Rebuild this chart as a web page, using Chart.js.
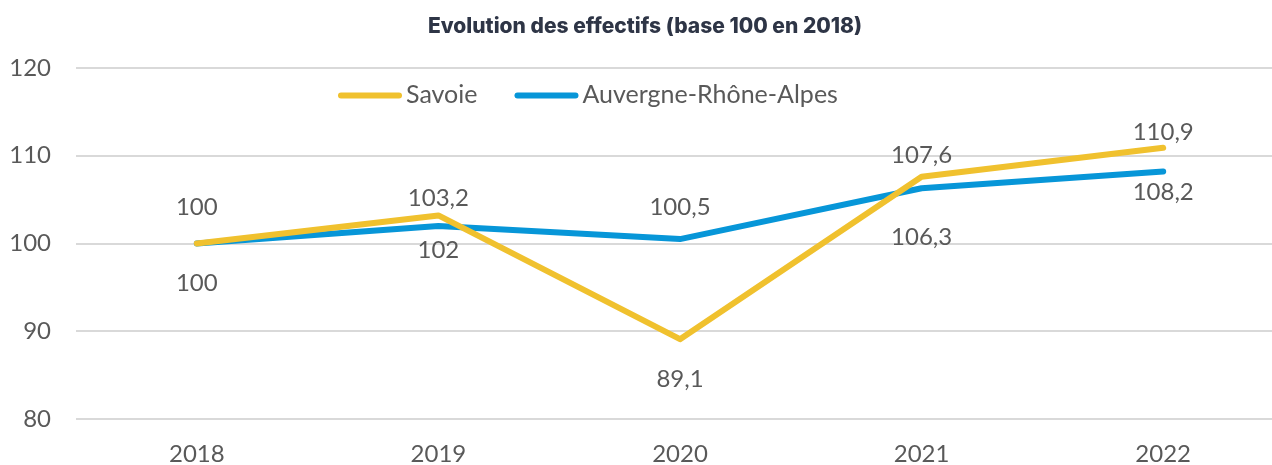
<!DOCTYPE html>
<html>
<head>
<meta charset="utf-8">
<script src="https://cdn.jsdelivr.net/npm/chart.js@4.4.0/dist/chart.umd.min.js"></script>
<style>
  html, body { margin: 0; padding: 0; background: #fff; overflow: hidden; }
  #wrap { width: 1272px; height: 465px; overflow: hidden; }
</style>
</head>
<body>
<div id="wrap"><canvas id="myChart" width="1284" height="465"></canvas></div>
<script>
// data
var years = ['2018', '2019', '2020', '2021', '2022'];
var savoie = [100, 103.2, 89.1, 107.6, 110.9];
var auvergne = [100, 102, 100.5, 106.3, 108.2];
var yTicks = [80, 90, 100, 110, 120];

// label offsets from the point (px, negative = above)
var savoieLabelDy = [-36, -17, 40, -22, -16];
var auvergneLabelDy = [40, 24, -32, 49, 21];

var grey = '#595959';
var font = 'Lato, "Open Sans", sans-serif';

function fmt(v) {
    return String(v).replace('.', ',');
}

// value labels drawn next to each point
var valueLabels = {
    id: 'valueLabels',
    afterDatasetsDraw: function (chart) {
        var ctx = chart.ctx;
        ctx.save();
        ctx.font = '24px ' + font;
        ctx.fillStyle = grey;
        ctx.textAlign = 'center';
        ctx.textBaseline = 'middle';
        chart.data.datasets.forEach(function (ds, i) {
            var meta = chart.getDatasetMeta(i);
            meta.data.forEach(function (pt, j) {
                ctx.fillText(fmt(ds.data[j]), pt.x, pt.y + ds.labelDy[j]);
            });
        });
        ctx.restore();
    }
};

// title + legend drawn by hand (legend sits inside the plot, left of centre)
var header = {
    id: 'header',
    afterDraw: function (chart) {
        var ctx = chart.ctx;
        ctx.save();
        ctx.fillStyle = '#2e3546';
        ctx.font = '800 21px Inter, sans-serif';
        ctx.textAlign = 'center';
        ctx.textBaseline = 'alphabetic';
        ctx.fillText('Evolution des effectifs (base 100 en 2018)', 645, 33);

        ctx.font = '25px ' + font;
        ctx.textAlign = 'left';
        var x = 341;
        var y = 95.5;
        chart.data.datasets.forEach(function (ds) {
            ctx.strokeStyle = ds.borderColor;
            ctx.lineWidth = 6;
            ctx.lineCap = 'round';
            ctx.beginPath();
            ctx.moveTo(x, y);
            ctx.lineTo(x + 58, y);
            ctx.stroke();
            ctx.fillStyle = grey;
            ctx.fillText(ds.label, x + 65, 103);
            x += 65 + ctx.measureText(ds.label).width + 40;
        });
        ctx.restore();
    }
};

var ctx = document.getElementById('myChart').getContext('2d');
var chart = new Chart(ctx, {
    type: 'line',
    data: {
        labels: years,
        datasets: [{
            label: 'Savoie',
            data: savoie,
            borderColor: '#f0c12e',
            labelDy: savoieLabelDy
        }, {
            label: 'Auvergne-Rhône-Alpes',
            data: auvergne,
            borderColor: '#0796d8',
            labelDy: auvergneLabelDy
        }]
    },
    options: {
        responsive: false,
        animation: false,
        layout: { padding: { top: 68, right: 0, bottom: 0, left: 0 } },
        elements: {
            line: { borderWidth: 6, tension: 0, borderCapStyle: 'round', borderJoinStyle: 'round' },
            point: { radius: 0, hoverRadius: 0 }
        },
        plugins: {
            legend: { display: false },
            title: { display: false },
            tooltip: { enabled: false }
        },
        scales: {
            x: {
                offset: true,
                grid: { display: false, drawTicks: false },
                border: { display: false },
                ticks: { color: grey, font: { family: font, size: 24 }, padding: 21, maxRotation: 0 },
                afterFit: function (scale) { scale.height = 46; }
            },
            y: {
                min: 80,
                max: 120,
                afterBuildTicks: function (scale) {
                    scale.ticks = yTicks.map(function (v) { return { value: v }; });
                },
                grid: { color: '#d9d9d9', lineWidth: 2, drawTicks: false },
                border: { display: false },
                ticks: { color: grey, font: { family: font, size: 24 }, padding: 25 },
                afterFit: function (scale) { scale.width = 76; }
            }
        }
    },
    plugins: [valueLabels, header]
});
</script>
</body>
</html>
